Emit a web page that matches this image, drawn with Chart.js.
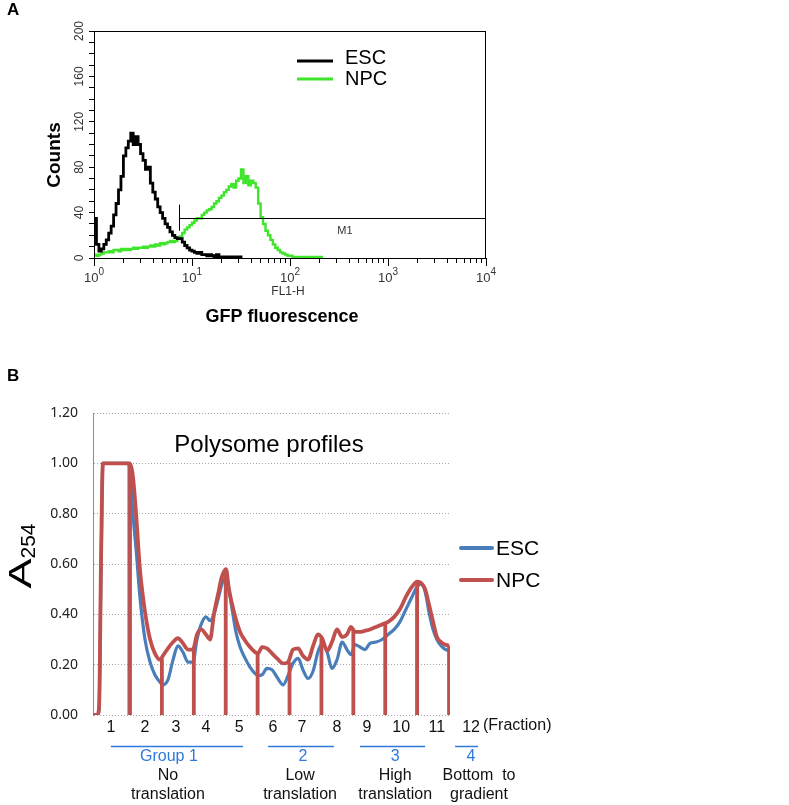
<!DOCTYPE html>
<html><head><meta charset="utf-8">
<script src="https://cdn.jsdelivr.net/npm/chart.js@4.4.1/dist/chart.umd.min.js"></script>
<style>
html,body{margin:0;padding:0;background:#fff;width:789px;height:805px;overflow:hidden}
canvas{position:absolute;left:0}
#a{top:0}
#b{top:330px}
</style></head><body>
<canvas id="a" width="789" height="330"></canvas>
<canvas id="b" width="789" height="475"></canvas>
<script>
// ---------- Panel A : flow cytometry histograms ----------
const seriesNames = ['ESC', 'NPC'];
const flowBinStepDecades = 0.025;            // channel width in decades of FL1-H
const escCounts = [35,12,6,8,12,16,22,28,38,48,60,72,90,97,103,110,100,107,100,92,86,78,80,66,58,52,45,40,35,30,27,23,20,18,17,17,14,11,9,7,6,5,4,5,3,3,2,3,2,1,3,1,1,1,0,1,0,1,0,1,0];
const npcCounts = [3,2,3,4,5,5,6,5,7,7,6,8,7,8,7,8,9,8,9,9,10,9,10,11,10,12,11,13,12,13,14,15,14,15,17,19,22,25,27,29,31,33,35,35,38,40,42,43,45,48,50,53,55,58,60,63,65,62,68,70,78,66,72,64,68,66,62,48,36,30,24,20,16,12,9,7,5,4,3,2,2,1,1,1,1,0,1,0,1,0,1,0,1,0];
const flowTickDecades = [0, 1, 2, 3, 4];
const countTicks = [0, 40, 80, 120, 160, 200];
const m1Gate = [7.4, 10000];
const m1Level = 35;
const m1Bar = [24, 47];

// ---------- Panel B : polysome profiles ----------
const profileX = [-0.16,-0.03,0.03,0.09,0.15,0.37,0.69,0.94,1.00,1.09,1.19,1.31,1.47,1.63,1.78,1.94,2.03,2.19,2.35,2.50,2.66,2.82,2.97,3.10,3.23,3.38,3.51,3.63,3.76,3.88,4.01,4.10,4.20,4.32,4.45,4.61,4.76,4.92,5.01,5.14,5.29,5.45,5.61,5.80,5.95,6.11,6.27,6.42,6.58,6.74,6.89,7.02,7.18,7.33,7.49,7.65,7.80,7.93,8.05,8.21,8.37,8.52,8.71,8.90,9.09,9.28,9.46,9.65,9.84,10.00,10.12,10.25,10.37,10.50,10.62,10.75,10.87,11.00];
const escA254 = [0,0,0.02,0.55,1.0, 1.0,1.0,1.0,0.97,0.80, 0.66,0.47,0.30,0.21,0.16, 0.13,0.12,0.14,0.22,0.275, 0.25,0.21,0.21,0.30,0.36, 0.39,0.375,0.40,0.46,0.52, 0.55,0.50,0.42,0.33,0.27, 0.225,0.19,0.165,0.157,0.16, 0.185,0.18,0.15,0.12,0.155, 0.205,0.225,0.18,0.145,0.175, 0.25,0.285,0.25,0.185,0.22, 0.29,0.26,0.24,0.28,0.27, 0.26,0.285,0.29,0.30,0.32, 0.34,0.37,0.42,0.47,0.51, 0.52,0.49,0.41,0.34,0.30, 0.275,0.262,0.255];
const npcA254 = [0,0,0.03,0.6,1.0, 1.0,1.0,1.0,1.0,0.95, 0.80,0.58,0.41,0.30,0.245, 0.22,0.235,0.265,0.29,0.305, 0.285,0.26,0.26,0.32,0.34, 0.32,0.30,0.40,0.48,0.55, 0.58,0.50,0.44,0.38,0.33, 0.295,0.27,0.25,0.245,0.27, 0.265,0.245,0.225,0.205,0.21, 0.26,0.265,0.235,0.22,0.275, 0.32,0.305,0.255,0.29,0.34, 0.31,0.32,0.35,0.33,0.33, 0.335,0.34,0.35,0.36,0.37, 0.39,0.42,0.47,0.51,0.53, 0.525,0.50,0.44,0.37,0.31, 0.29,0.28,0.275];
const escMarkX = [0.97, 10.0];
const escMarkTop = [1.0, 0.51];
const npcMarkX = [1,2,3,4,5,6,7,8,9,10,11];
const npcMarkTop = [1.0,0.225,0.26,0.58,0.245,0.21,0.305,0.34,0.365,0.53,0.275];
const fractionLabels = ['1','2','3','4','5','6','7','8','9','10','11','12'];
const fractionTickPos = [0.40,1.47,2.44,3.38,4.42,5.48,6.39,7.49,8.43,9.50,10.62,11.69];
const groupLabels = ['Group 1','2','3','4'];
const groupLabelPos = [2.22,6.42,9.31,11.69];
const groupSpans = [[0.40,4.54],[5.33,7.39],[8.21,10.25],[11.19,11.91]];
const groupDesc = [['No','translation'],['Low','translation'],['High','translation'],['Bottom  to','gradient']];
const groupDescPos = [2.19,6.33,9.31,11.94];
const a254Ticks = [0, 0.2, 0.4, 0.6, 0.8, 1.0, 1.2];

const FONT = '"Liberation Sans", Arial, sans-serif';
const colESC_A = '#000000', colNPC_A = '#3fe52a';
const colESC_B = '#4a7ebb', colNPC_B = '#c0504d';
const groupBlue = '#2f78dc';

function line(ctx, x1, y1, x2, y2) { ctx.beginPath(); ctx.moveTo(x1, y1); ctx.lineTo(x2, y2); ctx.stroke(); }

// ===== Chart A =====
const histPoints = arr => arr.map((c, i) => ({ x: Math.pow(10, i * flowBinStepDecades), y: c }));

const panelAPlugin = {
  id: 'panelA',
  afterDraw(chart) {
    const { ctx, chartArea: ca, scales: { x, y } } = chart;
    ctx.save();
    ctx.strokeStyle = '#000'; ctx.lineWidth = 1;
    ctx.strokeRect(ca.left + 0.5, ca.top + 0.5, ca.right - ca.left - 1, ca.bottom - ca.top);
    flowTickDecades.forEach(d => {
      const px = Math.round(x.getPixelForValue(Math.pow(10, d))) + 0.5;
      line(ctx, px, ca.bottom, px, ca.bottom + 8);
    });
    ctx.fillStyle = '#333'; ctx.textBaseline = 'alphabetic'; ctx.textAlign = 'left';
    flowTickDecades.forEach(d => {
      const px = x.getPixelForValue(Math.pow(10, d));
      ctx.font = '13px ' + FONT; const w1 = ctx.measureText('10').width;
      ctx.font = '10px ' + FONT; const w2 = ctx.measureText(String(d)).width;
      const s = px - (w1 + w2) / 2;
      ctx.font = '13px ' + FONT; ctx.fillText('10', s, ca.bottom + 24);
      ctx.font = '10px ' + FONT; ctx.fillText(String(d), s + w1, ca.bottom + 17);
    });
    ctx.font = '12px ' + FONT; ctx.textAlign = 'center';
    countTicks.forEach(v => {
      const py = y.getPixelForValue(v);
      ctx.save(); ctx.translate(ca.left - 11, py); ctx.rotate(-Math.PI / 2);
      ctx.fillText(String(v), 0, 0); ctx.restore();
    });
    ctx.fillStyle = '#000';
    ctx.save(); ctx.translate(55, 155); ctx.rotate(-Math.PI / 2);
    ctx.font = 'bold 19px ' + FONT; ctx.textBaseline = 'middle'; ctx.fillText('Counts', 0, 0); ctx.restore();
    ctx.textBaseline = 'middle';
    ctx.font = 'bold 18px ' + FONT; ctx.fillText('GFP fluorescence', 282, 317);
    ctx.fillStyle = '#333'; ctx.font = '12px ' + FONT; ctx.fillText('FL1-H', 288, 292);
    ctx.fillStyle = '#000'; ctx.textAlign = 'left'; ctx.font = 'bold 17px ' + FONT; ctx.fillText('A', 7, 10);
    const gx = x.getPixelForValue(m1Gate[0]);
    const gy = Math.round(y.getPixelForValue(m1Level)) + 0.5;
    ctx.strokeStyle = '#000'; ctx.lineWidth = 1;
    line(ctx, gx, gy, x.getPixelForValue(m1Gate[1]), gy);
    line(ctx, Math.round(gx) + 0.5, y.getPixelForValue(m1Bar[0]), Math.round(gx) + 0.5, y.getPixelForValue(m1Bar[1]));
    ctx.fillStyle = '#333'; ctx.font = '11px ' + FONT; ctx.textAlign = 'center';
    ctx.fillText('M1', 345, gy + 12);
    const ds = chart.data.datasets;
    [58, 79].forEach((ly, i) => {
      ctx.strokeStyle = ds[i].borderColor; ctx.lineWidth = 3;
      line(ctx, 297, ly + (i === 0 ? 3 : 0), 333, ly + (i === 0 ? 3 : 0));
      ctx.fillStyle = '#000'; ctx.font = '20px ' + FONT; ctx.textAlign = 'left'; ctx.textBaseline = 'middle';
      ctx.fillText(ds[i].label, 345, ly);
    });
    ctx.restore();
  }
};

new Chart(document.getElementById('a'), {
  type: 'line',
  data: {
    datasets: [
      { label: seriesNames[0], data: histPoints(escCounts), borderColor: colESC_A, borderWidth: 2.8, pointRadius: 0, stepped: true, fill: false },
      { label: seriesNames[1], data: histPoints(npcCounts), borderColor: colNPC_A, borderWidth: 2.4, pointRadius: 0, stepped: true, fill: false }
    ]
  },
  options: {
    responsive: false, animation: false, devicePixelRatio: 1, events: [],
    layout: { padding: { left: 0, top: 31, right: 303, bottom: 0 } },
    plugins: { legend: { display: false }, tooltip: { enabled: false } },
    scales: {
      x: {
        type: 'logarithmic', min: 1, max: 10000,
        afterBuildTicks(s) {
          const t = [];
          for (let d = 0; d < 4; d++) for (let k = 1; k < 10; k++) t.push({ value: k * Math.pow(10, d) });
          t.push({ value: 10000 });
          s.ticks = t;
        },
        ticks: { display: false },
        grid: { display: true, drawOnChartArea: false, drawTicks: true, tickLength: 5, tickColor: '#000', color: '#000' },
        border: { display: true, color: '#000', width: 1 },
        afterFit(s) { s.height = 72; }
      },
      y: {
        type: 'linear', min: 0, max: 200,
        afterBuildTicks(s) { const t = []; for (let v = 0; v <= 200; v += 10) t.push({ value: v }); s.ticks = t; },
        ticks: { display: false },
        grid: { display: true, drawOnChartArea: false, drawTicks: true, tickLength: 5, tickColor: '#000', color: '#000' },
        border: { display: true, color: '#000', width: 1 },
        afterFit(s) { s.width = 94; }
      }
    }
  },
  plugins: [panelAPlugin]
});

// ===== Chart B =====
const curve = (xs, ys) => xs.map((x, i) => ({ x, y: ys[i] }));
const marks = (xs, tops) => { const p = []; xs.forEach((x, i) => { p.push({ x, y: 0 }, { x, y: tops[i] }, { x, y: null }); }); return p; };

const panelBPlugin = {
  id: 'panelB',
  afterDraw(chart) {
    const { ctx, chartArea: ca, scales: { x } } = chart;
    ctx.save();
    ctx.fillStyle = '#000'; ctx.textBaseline = 'middle'; ctx.textAlign = 'left';
    ctx.font = 'bold 17px ' + FONT; ctx.fillText('B', 7, 46);
    ctx.save(); ctx.translate(31, 226); ctx.rotate(-Math.PI / 2);
    ctx.textBaseline = 'alphabetic';
    ctx.font = '31px ' + FONT; const wA = ctx.measureText('A').width; const sx = 1.45;
    ctx.font = '21px ' + FONT; const wS = ctx.measureText('254').width;
    const st = -(wA * sx + wS) / 2;
    ctx.save(); ctx.translate(st, 0); ctx.scale(sx, 1); ctx.font = '31px ' + FONT; ctx.fillText('A', 0, 0); ctx.restore();
    ctx.font = '21px ' + FONT; ctx.fillText('254', st + wA * sx, 4);
    ctx.restore();
    ctx.textAlign = 'center'; ctx.textBaseline = 'alphabetic';
    ctx.font = '24px ' + FONT; ctx.fillText('Polysome profiles', 269, 122);
    const ds = chart.data.datasets;
    [[ds[2], 218], [ds[0], 250]].forEach(([d, ly]) => {
      ctx.strokeStyle = d.borderColor; ctx.lineWidth = 4; ctx.lineCap = 'round';
      line(ctx, 461, ly, 492, ly);
      ctx.fillStyle = '#000'; ctx.font = '21px ' + FONT; ctx.textAlign = 'left'; ctx.textBaseline = 'middle';
      ctx.fillText(d.label, 496, ly + 1);
    });
    ctx.lineCap = 'butt';
    ctx.fillStyle = '#111'; ctx.font = '16px ' + FONT; ctx.textAlign = 'center'; ctx.textBaseline = 'middle';
    fractionLabels.forEach((t, i) => ctx.fillText(t, x.getPixelForValue(fractionTickPos[i]), 398));
    ctx.textAlign = 'left'; ctx.fillText('(Fraction)', 483, 396);
    ctx.strokeStyle = groupBlue; ctx.lineWidth = 1.5;
    groupSpans.forEach(([a, b]) => line(ctx, x.getPixelForValue(a), 416.5, x.getPixelForValue(b), 416.5));
    ctx.fillStyle = groupBlue; ctx.textAlign = 'center';
    groupLabels.forEach((t, i) => ctx.fillText(t, x.getPixelForValue(groupLabelPos[i]), 427));
    ctx.fillStyle = '#111';
    groupDesc.forEach((lines, i) => {
      const px = x.getPixelForValue(groupDescPos[i]);
      ctx.fillText(lines[0], px, 446);
      ctx.fillText(lines[1], px, 465);
    });
    ctx.restore();
  }
};

new Chart(document.getElementById('b'), {
  type: 'line',
  data: {
    datasets: [
      { label: seriesNames[1], data: curve(profileX, npcA254), borderColor: colNPC_B, borderWidth: 3.8, pointRadius: 0, cubicInterpolationMode: 'monotone', fill: false, borderJoinStyle: 'round' },
      { label: seriesNames[1] + ' fractions', data: marks(npcMarkX, npcMarkTop), borderColor: colNPC_B, borderWidth: 3.8, pointRadius: 0, tension: 0, fill: false, spanGaps: false },
      { label: seriesNames[0], data: curve(profileX, escA254), borderColor: colESC_B, borderWidth: 3.2, pointRadius: 0, cubicInterpolationMode: 'monotone', fill: false, borderJoinStyle: 'round' },
      { label: seriesNames[0] + ' fractions', data: marks(escMarkX, escMarkTop), borderColor: colESC_B, borderWidth: 3.2, pointRadius: 0, tension: 0, fill: false, spanGaps: false }
    ]
  },
  options: {
    responsive: false, animation: false, devicePixelRatio: 1, events: [],
    layout: { padding: { left: 0, top: 83, right: 339, bottom: 0 } },
    plugins: { legend: { display: false }, tooltip: { enabled: false } },
    scales: {
      x: {
        type: 'linear', min: -0.16, max: 11.03,
        ticks: { display: false },
        grid: { display: false },
        border: { display: false },
        afterFit(s) { s.height = 90; }
      },
      y: {
        type: 'linear', min: 0, max: 1.2,
        afterBuildTicks(s) { s.ticks = a254Ticks.map(v => ({ value: v })); },
        ticks: { padding: 15, color: '#222', font: { family: '"Noto Sans", "Liberation Sans", sans-serif', size: 14 }, callback: v => Number(v).toFixed(2) },
        grid: { display: true, drawOnChartArea: true, drawTicks: false, color: '#a8a8a8', lineWidth: 1 },
        border: { display: true, color: '#8c8c8c', width: 1, dash: [1, 2] },
        afterFit(s) { s.width = 93; }
      }
    }
  },
  plugins: [panelBPlugin]
});
</script>
</body></html>
